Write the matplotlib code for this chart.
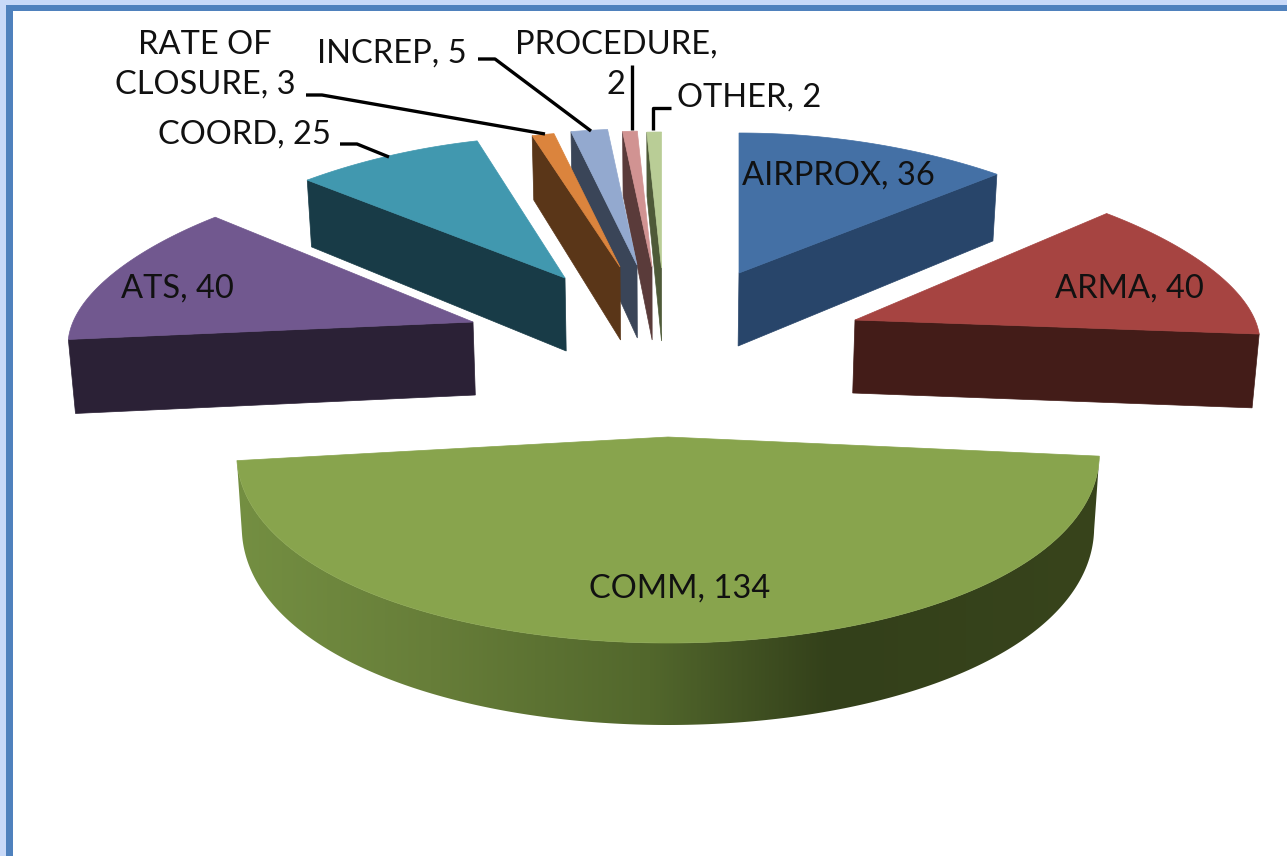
import numpy as np
import matplotlib
matplotlib.use("Agg")
import matplotlib.pyplot as plt
from matplotlib.patches import Polygon, Rectangle
from matplotlib.colors import LinearSegmentedColormap

# ---- data ----
categories = ["AIRPROX", "ARMA", "COMM", "ATS", "COORD", "RATE OF CLOSURE", "INCREP", "PROCEDURE", "OTHER"]
values = [36, 40, 134, 40, 25, 3, 5, 2, 2]

# ---- styles and layout (pixel space) ----
W, H = 1287, 856
top_colors = ["#4470a5", "#a64441", "#88a44d", "#71588f", "#4198af", "#db843d", "#93a9cf", "#d19392", "#b9cd96"]
cut_colors = ["#28456a", "#431c18", "#36421b", "#2b2136", "#183b47", "#5a3618", "#3a4558", "#5a3b3a", "#4e5a38"]
apex = [(739, 273), (855, 320), (668, 437), (473, 322), (565, 278), (620, 267), (637, 265), (652, 267), (661.5, 268)]
radii_x = [410, 400, 430, 400, 400, 400, 400, 400, 400]
radii_y = [140, 151, 206, 152, 142, 136, 136, 136, 136]
persp = [0.16, 0.16, 0.08, 0.16, 0.16, 0.16, 0.16, 0.16, 0.16]
vanish_x = 665
shrink = 0.012
depth_base, depth_tilt = 73, 9
draw_order = [0, 1, 2, 3, 4, 8, 7, 6, 5]

label_pos = [(838, 176), (1129, 289), (680, 589), (177, 289), (244, 135), (205, 65), (392, 54), (616, 65), (749, 98)]
label_breaks = {"RATE OF CLOSURE, 3": "RATE OF\nCLOSURE, 3", "PROCEDURE, 2": "PROCEDURE,\n2"}
line_gap = 40
leaders = [
    [(306, 95), (322, 95), (545, 134)],
    [(478, 59), (495, 59), (591, 131)],
    [(632, 65), (632, 130)],
    [(671, 108), (653, 108), (653, 130)],
    [(340, 144), (357, 144), (389, 157)],
]
wall_stops = [(235, "#748f42"), (430, "#677e39"), (650, "#52672c"), (830, "#33401a"), (1105, "#38441c")]

plt.rcParams["font.family"] = ["Lato", "DejaVu Sans"]
fig = plt.figure(figsize=(W / 100, H / 100), dpi=100)
ax = fig.add_axes([0, 0, 1, 1])
ax.axis("off")

# frame
ax.add_patch(Rectangle((0, 0), W, H, fc="#c8d9f8", ec="none", zorder=0))
ax.add_patch(Rectangle((6, 5), W, H, fc="#4f81bd", ec="none", zorder=0.1))
ax.add_patch(Rectangle((13, 11), W, H, fc="white", ec="none", zorder=0.2))


def rim(i, theta):
    """Top-surface point of slice i at clockwise angle theta (radians from 12 o'clock)."""
    theta = np.asarray(theta)
    x = apex[i][0] + radii_x[i] * np.sin(theta) * (1 - persp[i] * np.cos(theta))
    y = apex[i][1] - radii_y[i] * np.cos(theta)
    return x, y


def drop(x, y, cos_t):
    """Matching point on the underside."""
    return x + (vanish_x - x) * shrink, y + depth_base - depth_tilt * cos_t


total = sum(values)
edges = np.cumsum([0] + values) / total * 2 * np.pi

z = 1
for i in draw_order:
    a0, a1 = edges[i], edges[i + 1]
    t = np.linspace(a0, a1, 240)
    rx, ry = rim(i, t)
    ax0, ay0 = apex[i]

    # exposed radial cut faces
    for a, needed in ((a0, a0 > np.pi), (a1, a1 < np.pi)):
        if needed:
            ex, ey = rim(i, a)
            bx, by = drop(ex, ey, np.cos(a))
            cx, cy = drop(ax0, ay0, 0)
            ax.add_patch(Polygon([(ax0, ay0), (ex, ey), (bx, by), (cx, cy)], closed=True,
                                 fc=cut_colors[i], ec=cut_colors[i], lw=0.5, zorder=z))
            z += 1

    # front outer wall with horizontal shading
    if a0 < np.pi < a1:
        bx, by = drop(rx, ry, np.cos(t))
        pts = np.r_[np.c_[rx, ry], np.c_[bx, by][::-1]]
        clip = Polygon(pts, closed=True, transform=ax.transData, fc="none", ec="none")
        ax.add_patch(clip)
        lo, hi = wall_stops[0][0], wall_stops[-1][0]
        cmap = LinearSegmentedColormap.from_list(
            "wall", [((p - lo) / (hi - lo), c) for p, c in wall_stops])
        im = ax.imshow(np.linspace(0, 1, 512)[None, :], extent=(lo, hi, 760, 430), cmap=cmap,
                       aspect="auto", zorder=z, interpolation="bilinear")
        im.set_clip_path(clip)
        z += 1

    # top surface
    ax.add_patch(Polygon(np.r_[[(ax0, ay0)], np.c_[rx, ry]], closed=True,
                         fc=top_colors[i], ec=top_colors[i], lw=0.5, zorder=z))
    z += 1

for path in leaders:
    xs, ys = zip(*path)
    ax.plot(xs, ys, color="black", lw=2.4, solid_capstyle="butt", solid_joinstyle="round", zorder=50)

for name, val, (lx, ly) in zip(categories, values, label_pos):
    s = f"{name}, {val}"
    lines = label_breaks.get(s, s).split("\n")
    for k, line in enumerate(lines):
        yy = ly + (k - (len(lines) - 1) / 2) * line_gap
        ax.text(lx, yy, line, ha="center", va="center", fontsize=23.5, color="#111111", zorder=60)

ax.set_xlim(0, W)
ax.set_ylim(H, 0)
fig.savefig("out.png", dpi=100)
